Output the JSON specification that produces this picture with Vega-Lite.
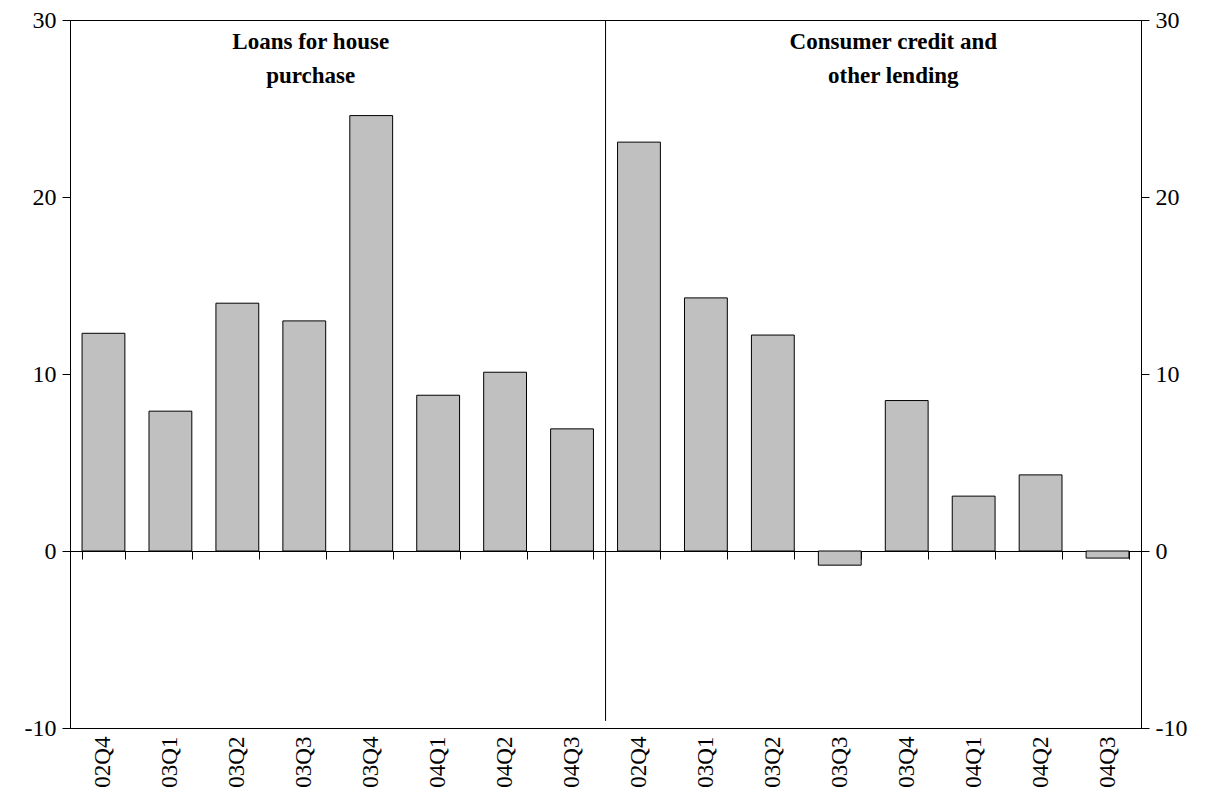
{
  "$schema": "https://vega.github.io/schema/vega-lite/v6.json",
  "autosize": "none",
  "width": 1071,
  "height": 708,
  "padding": {"left": 70, "top": 20, "right": 78, "bottom": 82},
  "background": "white",
  "config": {
    "font": "Liberation Serif",
    "view": {"stroke": "black", "strokeWidth": 1},
    "axis": {"labelFont": "Liberation Serif", "labelFontSize": 23, "labelColor": "black", "domainColor": "black", "tickColor": "black", "grid": false, "title": null}
  },
  "resolve": {"axis": {"x": "independent", "y": "independent"}},
  "data": {
    "values": [
      {"key": "A-02Q4", "v": 12.3}, {"key": "A-03Q1", "v": 7.9}, {"key": "A-03Q2", "v": 14.0}, {"key": "A-03Q3", "v": 13.0},
      {"key": "A-03Q4", "v": 24.6}, {"key": "A-04Q1", "v": 8.8}, {"key": "A-04Q2", "v": 10.1}, {"key": "A-04Q3", "v": 6.9},
      {"key": "B-02Q4", "v": 23.1}, {"key": "B-03Q1", "v": 14.3}, {"key": "B-03Q2", "v": 12.2}, {"key": "B-03Q3", "v": -0.8},
      {"key": "B-03Q4", "v": 8.5}, {"key": "B-04Q1", "v": 3.1}, {"key": "B-04Q2", "v": 4.3}, {"key": "B-04Q3", "v": -0.4}
    ]
  },
  "layer": [
    {
      "mark": {"type": "bar", "color": "#c0c0c0", "stroke": "black", "strokeWidth": 1},
      "encoding": {
        "x": {"field": "key", "type": "nominal", "sort": null, "scale": {"paddingInner": 0.36, "paddingOuter": 0.18},
          "axis": {"labelAngle": -90, "labelExpr": "slice(datum.value, 2)", "ticks": false, "domain": false, "labelPadding": 8, "labelBaseline": "middle"}},
        "y": {"field": "v", "type": "quantitative", "scale": {"domain": [-10, 30]},
          "axis": {"values": [-10, 0, 10, 20, 30], "labelExpr": "'' + datum.value", "labelFontSize": 24, "tickSize": 8, "labelPadding": 6, "tickDirection": "inward"}}
      }
    },
    {
      "mark": {"type": "rule", "color": "black"},
      "encoding": {
        "x": {"field": "key", "type": "nominal", "sort": null, "axis": {"offset": -177, "labels": false, "tickBand": "extent", "tickSize": 8, "domain": true, "orient": "bottom"}},
        "y": {"field": "v", "type": "quantitative", "axis": {"orient": "right", "values": [-10, 0, 10, 20, 30], "labelExpr": "'' + datum.value", "labelFontSize": 24, "tickSize": 8, "labelPadding": 6}},
        "opacity": {"value": 0}
      }
    },
    {
      "data": {"values": [{"key": "B-02Q4"}]},
      "mark": {"type": "rule", "color": "black", "strokeWidth": 1},
      "encoding": {
        "x": {"field": "key", "type": "nominal", "bandPosition": -0.28, "axis": null},
        "y": {"datum": -9.6, "axis": null},
        "y2": {"datum": 30}
      }
    },
    {
      "data": {"values": [{"key": "A-03Q3", "t": ["Loans for house", "purchase"]}]},
      "mark": {"type": "text", "fontWeight": "bold", "fontSize": 23, "baseline": "top", "lineHeight": 34, "color": "black"},
      "encoding": {
        "x": {"field": "key", "type": "nominal", "bandPosition": 0.65, "axis": null},
        "y": {"datum": 29.4, "axis": null},
        "text": {"field": "t"}
      }
    },
    {
      "data": {"values": [{"key": "B-03Q3", "t": ["Consumer credit and", "other lending"]}]},
      "mark": {"type": "text", "fontWeight": "bold", "fontSize": 23, "baseline": "top", "lineHeight": 34, "color": "black"},
      "encoding": {
        "x": {"field": "key", "type": "nominal", "bandPosition": 1.75, "axis": null},
        "y": {"datum": 29.4, "axis": null},
        "text": {"field": "t"}
      }
    }
  ]
}
